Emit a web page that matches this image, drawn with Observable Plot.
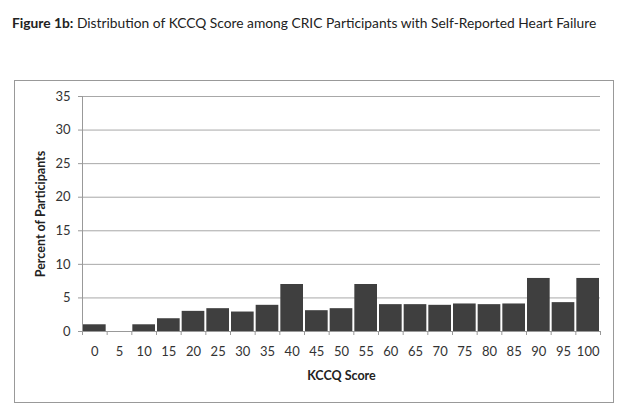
<!DOCTYPE html>
<html>
<head>
<meta charset="utf-8">
<script src="https://cdn.jsdelivr.net/npm/d3@7"></script>
<script src="https://cdn.jsdelivr.net/npm/@observablehq/plot@0.6"></script>
<style>
  html, body { margin: 0; padding: 0; background: #fff; width: 624px; height: 416px; overflow: hidden; }
  body { font-family: Lato, "Open Sans", sans-serif; position: relative; }
  #title { position: absolute; left: 12px; top: 14px; font-size: 13.8px; color: #222; white-space: nowrap; }
  #title b { font-weight: 700; }
  #frame { position: absolute; left: 14px; top: 80px; width: 598px; height: 321px; border: 1px solid #999; }
  #frame svg { display: block; }
</style>
</head>
<body>
<div id="title"><b>Figure 1b:</b> Distribution of KCCQ Score among CRIC Participants with Self-Reported Heart Failure</div>
<div id="frame"></div>
<script>
const scores = [0, 5, 10, 15, 20, 25, 30, 35, 40, 45, 50, 55, 60, 65, 70, 75, 80, 85, 90, 95, 100];
const percents = [1.0, 0, 1.0, 1.9, 3.0, 3.4, 2.9, 3.9, 7.0, 3.1, 3.4, 7.0, 4.0, 4.0, 3.9, 4.1, 4.0, 4.1, 7.9, 4.3, 7.9];
const yTicks = [0, 5, 10, 15, 20, 25, 30, 35];
const xTitle = "KCCQ Score";
const yTitle = "Percent of Participants";

const binWidth = 5;
const data = scores.map((s, i) => ({score: s, pct: percents[i]}));
const edges = [...scores.map(s => s - binWidth / 2), scores[scores.length - 1] + binWidth / 2];

const chart = Plot.plot({
  width: 598,
  height: 321,
  marginLeft: 67,
  marginRight: 13,
  marginTop: 15,
  marginBottom: 71,
  style: {fontFamily: "Lato, 'Open Sans', sans-serif", fontSize: "12px", color: "#333", background: "transparent"},
  x: {domain: [edges[0], edges[edges.length - 1]]},
  y: {domain: [0, 35]},
  marks: [
    Plot.gridY(yTicks, {stroke: "#a8a8a8", strokeOpacity: 1, strokeWidth: 1}),
    Plot.axisY(yTicks, {tickSize: 4, tickPadding: 8, stroke: "#999", fontSize: 13, label: null}),
    Plot.ruleX([edges[0]], {stroke: "#999"}),
    Plot.rectY(data, {x1: d => d.score - binWidth / 2, x2: d => d.score + binWidth / 2, y: "pct", fill: "#3f3f3f", insetLeft: 1, insetRight: 1}),
    Plot.ruleY([0], {stroke: "#999"}),
    Plot.axisX(edges, {tickSize: 4, stroke: "#999", tickFormat: () => "", label: null}),
    Plot.axisX(scores, {tickSize: 0, tickPadding: 15, fontSize: 13, label: null}),
    Plot.text([xTitle], {frameAnchor: "bottom", dy: 48, fontWeight: "bold", fontSize: 12.5, fill: "#222"}),
    Plot.text([yTitle], {frameAnchor: "left", textAnchor: "middle", dx: -42, rotate: -90, fontWeight: "bold", fontSize: 12.5, fill: "#222"})
  ]
});
document.getElementById("frame").appendChild(chart);
</script>
</body>
</html>
